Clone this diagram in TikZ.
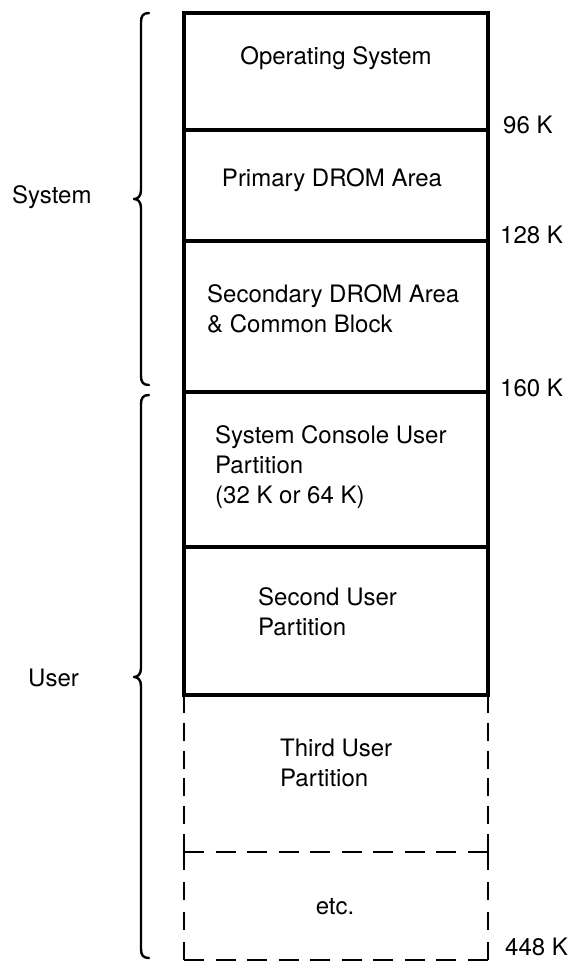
\documentclass[tikz,border=0pt]{standalone}
\usepackage{fontspec}
\setmainfont{TeX Gyre Heros}
\begin{document}
\begin{tikzpicture}[x=1pt,y=-1pt,
  solidline/.style={line width=3.4pt, line cap=rect},
  hdash/.style={line width=2.8pt, dash pattern=on 20pt off 11.56pt},
  vdashA/.style={line width=2.8pt, dash pattern=on 18pt off 9.8pt},
  vdashB/.style={line width=2.8pt, dash pattern=on 18pt off 12pt},
  bracestyle/.style={line width=2.4pt, line cap=round, line join=round},
  lbl/.style={inner sep=0pt, font=\fontsize{24}{30}\selectfont},
  txt/.style={lbl, align=left, anchor=west}]
\useasboundingbox (0,0) rectangle (573,969);
% key coordinates of the memory map
\coordinate (tl) at (184,13);
\coordinate (tr) at (488,13);
\coordinate (l1) at (184,130);  \coordinate (r1) at (488,130);
\coordinate (l2) at (184,241);  \coordinate (r2) at (488,241);
\coordinate (l3) at (184,392);  \coordinate (r3) at (488,392);
\coordinate (l4) at (184,547);  \coordinate (r4) at (488,547);
\coordinate (l5) at (184,695);  \coordinate (r5) at (488,695);
\coordinate (l6) at (184,852);  \coordinate (r6) at (488,852);
\coordinate (bl) at (184,960);  \coordinate (br) at (488,960);
% solid part
\draw[solidline] (l5) -- (tl) -- (tr) -- (r5);
\draw[solidline] (l1) -- (r1);
\draw[solidline] (l2) -- (r2);
\draw[solidline] (l3) -- (r3);
\draw[solidline] (l4) -- (r4);
\draw[solidline] (l5) -- (r5);
% dashed part
\draw[vdashA] (l5) -- (l6);
\draw[vdashA] (r5) -- (r6);
\draw[vdashB] (l6) -- (bl);
\draw[vdashB] (r6) -- (br);
\draw[hdash] (l6) -- (r6);
\draw[hdash] (bl) -- (br);
% texts in the compartments
\node[lbl] (os) at (336,58) {Operating System};
\node[lbl] (pd) at (332,180) {Primary DROM Area};
\node[txt] (sd) at (207,309) {Secondary DROM Area\\\& Common Block};
\node[txt] (sc) at (215,467) {System Console User\\Partition\\(32 K or 64 K)};
\node[txt] (su) at (258,612) {Second User\\Partition};
\node[txt] (tu) at (280,763) {Third User\\Partition};
\node[lbl] (etc) at (335,907) {etc.};
% addresses
\node[lbl, anchor=west] (k96) at (503,125) {96 K};
\node[lbl, anchor=west] (k128) at (500,235) {128 K};
\node[lbl, anchor=west] (k160) at (500,388) {160 K};
\node[lbl, anchor=west] (k448) at (505,947) {448 K};
% braces
\draw[bracestyle] (149,13) .. controls (143,13) and (141,16) .. (141,22)
  -- (141,190) .. controls (141,196) and (138,199) .. (134,199)
  .. controls (138,199) and (141,202) .. (141,208)
  -- (141,376) .. controls (141,382) and (143,385) .. (149,385);
\draw[bracestyle] (149,395) .. controls (143,395) and (141,398) .. (141,404)
  -- (141,668) .. controls (141,674) and (138,677) .. (134,677)
  .. controls (138,677) and (141,680) .. (141,686)
  -- (141,949) .. controls (141,955) and (143,958) .. (149,958);
\node[lbl, anchor=west] (sys) at (12,197) {System};
\node[lbl, anchor=west] (usr) at (28,678) {User};
\end{tikzpicture}
\end{document}
